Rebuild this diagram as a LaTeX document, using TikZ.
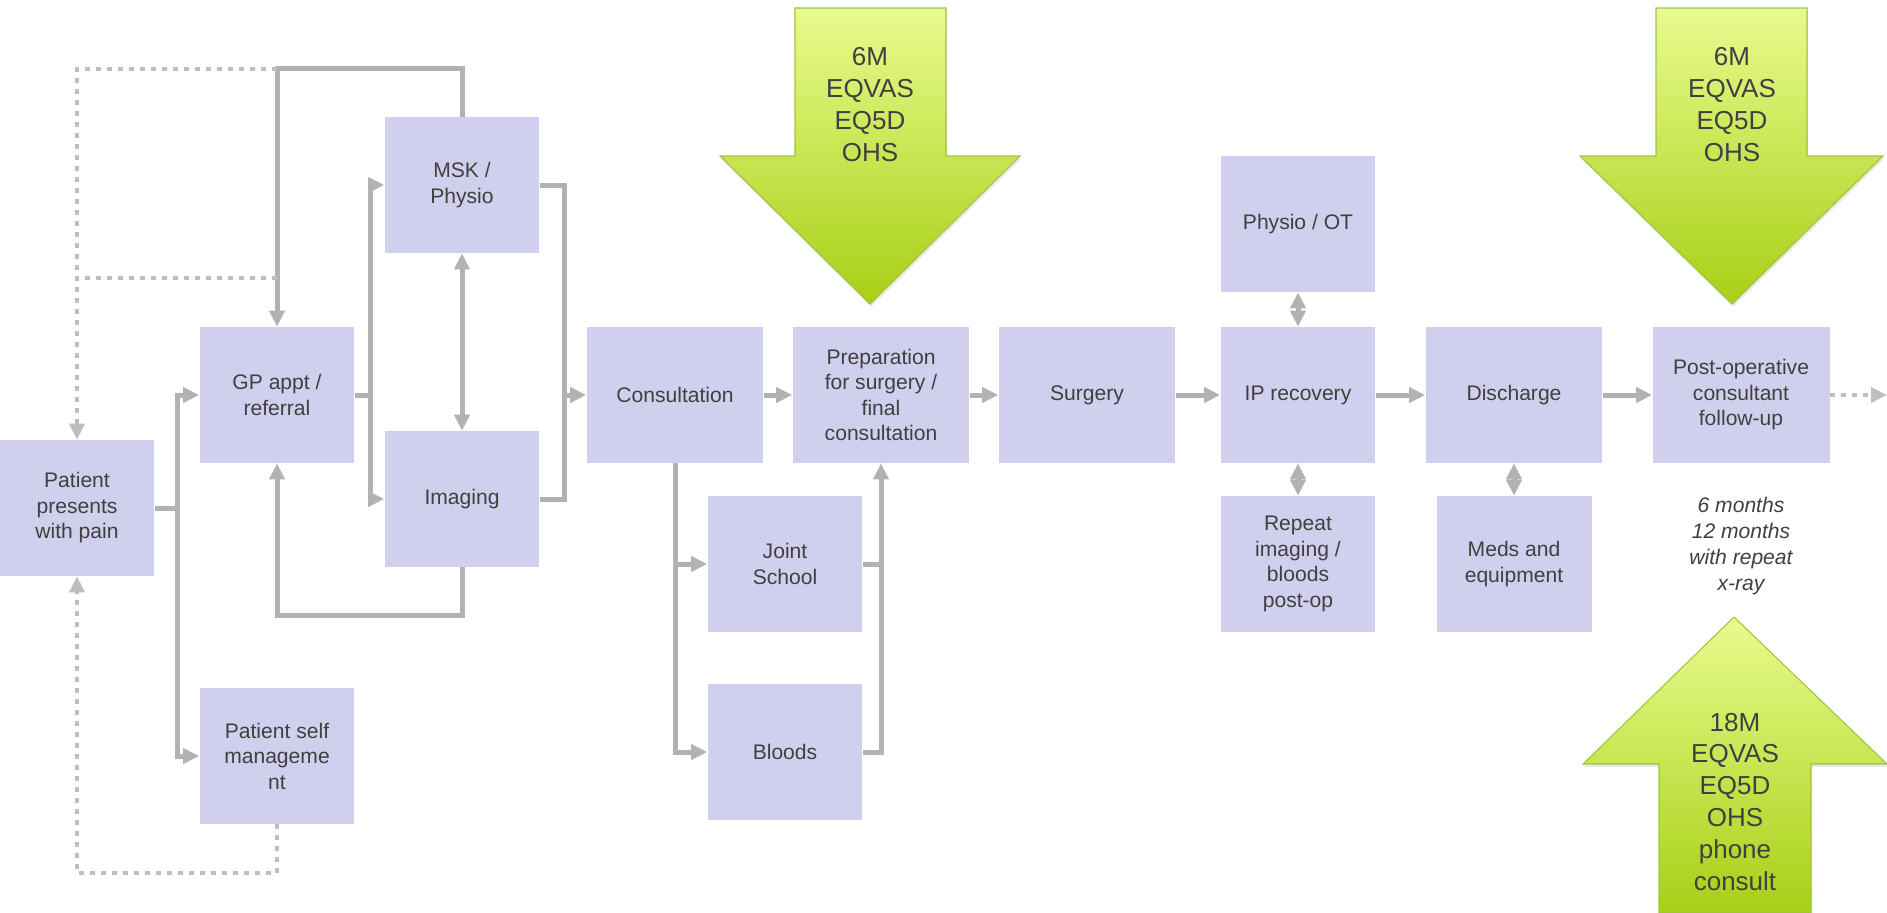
\documentclass[tikz,border=0pt]{standalone}
\usepackage{fontspec}
\setmainfont{Liberation Sans}
\usetikzlibrary{arrows.meta,shadows}
\usetikzlibrary{positioning,calc}
\definecolor{boxfill}{RGB}{208,207,238}
\definecolor{txtgray}{RGB}{64,64,64}
\definecolor{linegray}{RGB}{178,178,178}
\definecolor{dotgray}{RGB}{190,190,190}
\definecolor{greentop}{RGB}{232,251,142}
\definecolor{greenbot}{RGB}{168,207,22}
\definecolor{greenedge}{RGB}{160,196,60}
\tikzset{stage/.style={rectangle,fill=boxfill,text=txtgray,inner sep=1pt,
minimum width=3.1cm, minimum height=2.72cm, align=center,
font=\fontsize{12}{14.5}\selectfont},
widestage/.style={stage,minimum width=3.54cm},
link/.style={draw=linegray, line width=0.1cm},
dotlink/.style={draw=dotgray, line width=0.08cm, dash pattern=on 0.1cm off 0.12cm},
kpi/.style={draw=greenedge, line width=0.6pt, top color=greentop, bottom color=greenbot,
drop shadow={opacity=0.18,shadow xshift=0.6pt,shadow yshift=-1.6pt}},
kpitext/.style={text=txtgray, align=center, font=\fontsize{14.8}{18.2}\selectfont},
followtext/.style={text=txtgray, align=center, font=\fontsize{12}{14.7}\selectfont\itshape},
>={Triangle[length=0.32cm,width=0.3cm]}}

\begin{document}
\begin{tikzpicture}[x=0.02cm, y=-0.02cm]
\useasboundingbox (0,0) rectangle (1887,913);

% outcome measures
\path[kpi] (795,8) -- (946,8) -- (946,156) -- (1020,156) -- (870,304) -- (720,156) -- (795,156) -- cycle;
\node (kpiA) [kpitext] at (870,105) {6M\\EQVAS\\EQ5D\\OHS};
\path[kpi] (1656,8) -- (1807,8) -- (1807,156) -- (1883,156) -- (1732,304) -- (1580,156) -- (1656,156) -- cycle;
\node (kpiB) [kpitext] at (1732,105) {6M\\EQVAS\\EQ5D\\OHS};
\path[kpi] (1734,617) -- (1887,764) -- (1811,764) -- (1811,913) -- (1659,913) -- (1659,764) -- (1583,764) -- cycle;
\node (kpiC) [kpitext] at (1735,802) {18M\\EQVAS\\EQ5D\\OHS\\phone\\consult};

% pathway
\node (pat) [stage] at (77,508) {Patient\\presents\\with pain};
\node (gp) [stage] at (277,395) {GP appt /\\referral};
\node (self) [stage] at (277,756) {Patient self\\manageme\\nt};
\node (msk) [stage] at (462,185) {MSK /\\Physio};
\node (img) [stage] at (462,499) {Imaging};
\node (cons) [widestage] at (675,395) {Consultation};
\node (prep) [widestage] at (881,395) {Preparation\\for surgery /\\final\\consultation};
\node (surg) [widestage] at (1087,395) {Surgery};
\node (js) [stage] at (785,564) {Joint\\School};
\node (bloods) [stage] at (785,752) {Bloods};
\node (pot) [stage] at (1298,224) {Physio / OT};
\node (ip) [stage] at (1298,395) {IP recovery};
\node (rep) [stage] at (1298,564) {Repeat\\imaging /\\bloods\\post-op};
\node (dis) [widestage] at (1514,395) {Discharge};
\node (meds) [stage] at (1514,564) {Meds and\\equipment};
\node (post) [widestage] at (1741,395) {Post-operative\\consultant\\follow-up};
\node (fu) [followtext] at (1741,546) {6 months\\12 months\\with repeat\\x-ray};

\coordinate (pbus) at (177,508);
\coordinate (gbus) at (370,395);
\coordinate (mbus) at (564,395);
\coordinate (pend) at (1887,395);

\draw [link,->]
(pat.east) -- (pbus) |-
(gp.west);
\draw [link,->]
(pbus) |-
(self.west);
\draw [link]
(gp.east) --
(gbus);
\draw [link,->]
(gbus) |-
(msk.west);
\draw [link,->]
(gbus) |-
(img.west);
\draw [link,<->]
(msk) --
(img);
\draw [link,->]
(msk.north) -- ++(0,-48) coordinate (mtop) -|
(gp.north);
\draw [link,->]
(img.south) -- ++(0,48) -|
(gp.south);
\draw [dotlink,->]
(mtop -| gp.north) -|
(pat.north);
\path (gp.north) ++(0,-49) coordinate (gmid);
\draw [dotlink]
(gmid) --
(gmid -| pat.north);
\draw [dotlink,->]
(self.south) -- ++(0,49) -|
(pat.south);
\draw [link]
(msk.east) -|
(mbus);
\draw [link]
(img.east) -|
(mbus);
\draw [link,->]
(mbus) --
(cons.west);
\draw [link,->]
(cons) --
(prep);
\draw [link,->]
(cons.south) |-
(bloods.west);
\draw [link,->]
(cons.south |- js.west) --
(js.west);
\draw [link,->]
(bloods.east) -|
(prep.south);
\draw [link]
(js.east) --
(js.east -| prep.south);
\draw [link,->]
(prep) --
(surg);
\draw [link,->]
(surg) --
(ip);
\draw [link,<->]
(pot) --
(ip);
\draw [link,<->]
(ip) --
(rep);
\draw [link,->]
(ip) --
(dis);
\draw [link,<->]
(dis) --
(meds);
\draw [link,->]
(dis) --
(post);
\draw [dotlink,->]
(post) --
(pend);
\end{tikzpicture}
\end{document}
